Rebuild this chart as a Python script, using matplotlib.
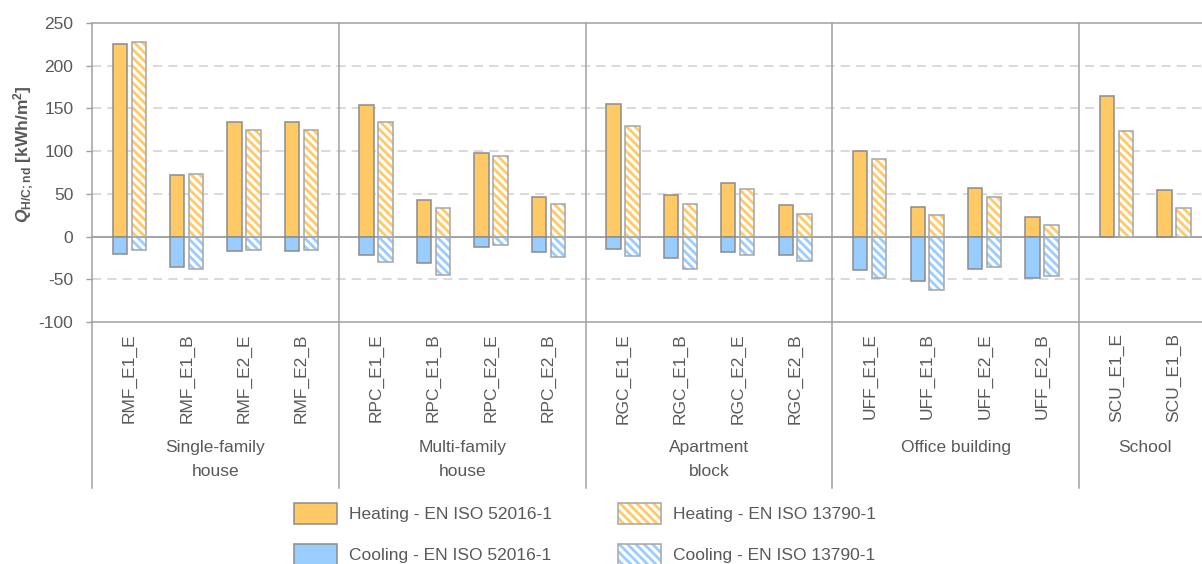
"""Heating / cooling energy need per building case, EN ISO 52016-1 vs EN ISO 13790-1."""
import matplotlib
matplotlib.use("Agg")
import matplotlib.pyplot as plt
import matplotlib.transforms as mtransforms
from matplotlib.patches import Patch

plt.rcParams.update({
    "font.family": ["Liberation Sans", "DejaVu Sans"],
    "font.size": 12.5,
    "text.color": "#595959",
    "axes.labelcolor": "#595959",
    "axes.unicode_minus": False,
    "xtick.color": "#595959",
    "ytick.color": "#595959",
    "hatch.linewidth": 2.0,
    "mathtext.fontset": "custom",
    "mathtext.rm": "Liberation Sans",
    "mathtext.it": "Liberation Sans:italic",
    "mathtext.bf": "Liberation Sans:bold",
    "mathtext.bfit": "Liberation Sans:bold:italic",
})

# data
groups = ["Single-family\nhouse", "Multi-family\nhouse", "Apartment\nblock", "Office building", "School"]
group_sizes = [4, 4, 4, 4, 2]
cases = ["RMF_E1_E", "RMF_E1_B", "RMF_E2_E", "RMF_E2_B",
         "RPC_E1_E", "RPC_E1_B", "RPC_E2_E", "RPC_E2_B",
         "RGC_E1_E", "RGC_E1_B", "RGC_E2_E", "RGC_E2_B",
         "UFF_E1_E", "UFF_E1_B", "UFF_E2_E", "UFF_E2_B",
         "SCU_E1_E", "SCU_E1_B"]
heat_52016 = [225, 72, 134, 134, 154, 43, 98, 46, 155, 49, 63, 37, 100, 35, 57, 23, 165, 55]
heat_13790 = [228, 73, 125, 125, 134, 34, 94, 38, 129, 38, 56, 27, 91, 25, 46, 13, 124, 33]
cool_52016 = [-20, -36, -17, -17, -22, -31, -12, -18, -15, -25, -18, -21, -39, -52, -38, -48, 0, 0]
cool_13790 = [-16, -38, -16, -16, -30, -45, -10, -24, -23, -38, -22, -29, -48, -62, -36, -46, 0, 0]

ORANGE = "#FFC966"
BLUE = "#99CCFF"
EDGE = "#8C8C8C"
EDGE_H = "#A6A6A6"
HATCH = "\\" * 4

# layout of the category axis (group margin, slot spacing = 1)
margin = 0.65
xpos, bounds = [], [0.0]
for n in group_sizes:
    start = bounds[-1]
    xpos += [start + margin + i for i in range(n)]
    bounds.append(start + 2 * margin + n - 1)

W, H = 1202, 564
fig = plt.figure(figsize=(W / 100, H / 100), dpi=100)
ax_l, ax_t, ax_b = 92, 23, 322
ax_w = bounds[-1] * 57.4
ax = fig.add_axes([ax_l / W, 1 - ax_b / H, ax_w / W, (ax_b - ax_t) / H])

bw, off = 0.25, 0.165
xs = [x - off for x in xpos]
xh = [x + off for x in xpos]

ax.bar(xs, heat_52016, bw, color=ORANGE, edgecolor=EDGE, lw=1.1, zorder=3)
ax.bar(xs, cool_52016, bw, color=BLUE, edgecolor=EDGE, lw=1.1, zorder=3)
ax.bar(xh, heat_13790, bw, color="white", edgecolor=ORANGE, hatch=HATCH, lw=0, zorder=3)
ax.bar(xh, cool_13790, bw, color="white", edgecolor=BLUE, hatch=HATCH, lw=0, zorder=3)
ax.bar(xh, heat_13790, bw, color="none", edgecolor=EDGE_H, lw=1.1, zorder=4)
ax.bar(xh, [c if c else float("nan") for c in cool_13790], bw, color="none",
       edgecolor=EDGE_H, lw=1.1, zorder=4)

ax.set_xlim(0, bounds[-1])
ax.set_ylim(-100, 250)
ax.set_yticks(range(-100, 251, 50))
for y in [-50, 50, 100, 150, 200]:
    ax.axhline(y, color="#D0D0D0", lw=1.1, ls=(0, (6, 4)), zorder=1)
ax.axhline(0, color=EDGE, lw=1.1, zorder=2)

for s in ["top", "left", "bottom"]:
    ax.spines[s].set_color("#A0A0A0")
    ax.spines[s].set_linewidth(1.1)
ax.spines["right"].set_visible(False)
ax.tick_params(axis="y", length=4.5, width=1, color="#A0A0A0", pad=9)

ax.set_xticks(xpos)
ax.set_xticklabels(cases, rotation=90, va="top", ha="center")
ax.tick_params(axis="x", length=0, pad=8)

# group separators running down through the label area
trans = mtransforms.blended_transform_factory(ax.transData, ax.transAxes)
y_low = -(488 - ax_b) / (ax_b - ax_t)
for b in bounds[1:-1]:
    ax.plot([b, b], [1, y_low], color="#A0A0A0", lw=1.1, transform=trans, clip_on=False, zorder=5)
ax.plot([0, 0], [0, y_low], color="#A0A0A0", lw=1.1, transform=trans, clip_on=False)

y_grp = -(440 - ax_b) / (ax_b - ax_t)
for g, a, b in zip(groups, bounds[:-1], bounds[1:]):
    ax.text((a + b) / 2, y_grp, g, transform=trans, ha="center", va="top",
            linespacing=1.72, color="#595959")

fig.text(24 / W, 1 - 154 / H, r"$\mathbfit{Q}_{\mathbf{H/C;nd}}\ \mathbf{[kWh/m^2]}$",
         rotation=90, ha="center", va="center", fontsize=12.5, color="#595959")

h1 = Patch(facecolor=ORANGE, edgecolor=EDGE, lw=1.1)
h2 = Patch(facecolor=BLUE, edgecolor=EDGE, lw=1.1)
h3 = (Patch(facecolor="white", edgecolor=ORANGE, hatch=HATCH, lw=0),
      Patch(facecolor="none", edgecolor=EDGE_H, lw=1.1))
h4 = (Patch(facecolor="white", edgecolor=BLUE, hatch=HATCH, lw=0),
      Patch(facecolor="none", edgecolor=EDGE_H, lw=1.1))
fig.legend([h1, h2, h3, h4],
           ["Heating - EN ISO 52016-1", "Cooling - EN ISO 52016-1",
            "Heating - EN ISO 13790-1", "Cooling - EN ISO 13790-1"],
           ncol=2, loc="upper left", bbox_to_anchor=(294 / W, 1 - 503 / H),
           frameon=False, borderpad=0, borderaxespad=0, handlelength=2.47,
           handleheight=1.44, handletextpad=0.7, columnspacing=3.8, labelspacing=1.2)

fig.savefig("out.png", dpi=100, facecolor="white")
plt.close(fig)
